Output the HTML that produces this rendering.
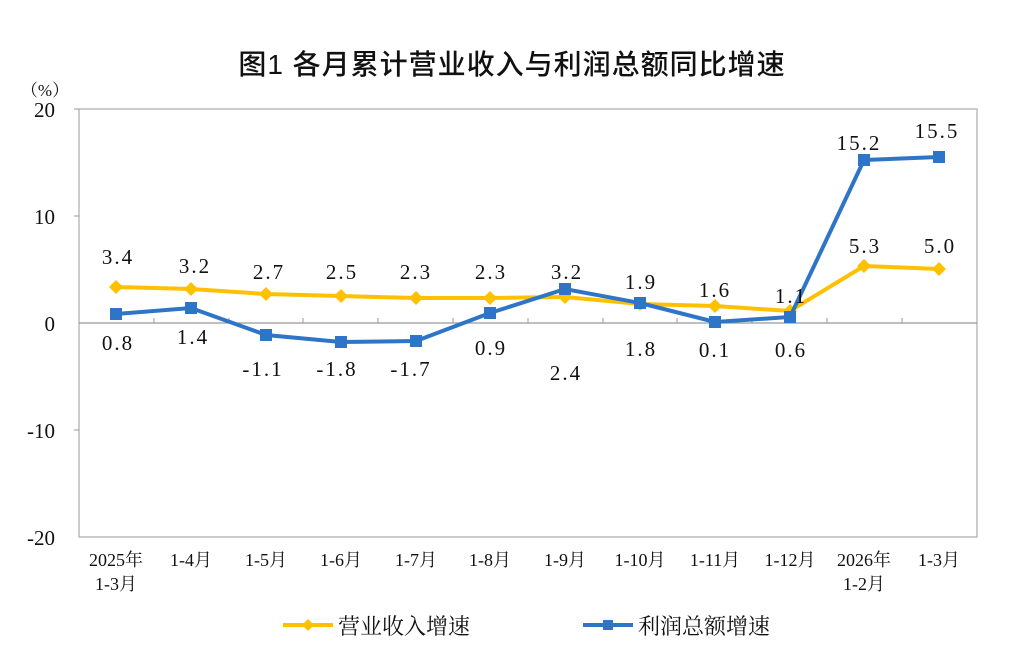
<!DOCTYPE html>
<html><head><meta charset="utf-8"><style>
body{margin:0;background:#fff;}
svg text{font-family:"Liberation Serif","Noto Serif CJK SC",serif;fill:#111;}
.t{font-family:"Liberation Sans","Noto Sans CJK SC",sans-serif;font-weight:500;}
.cj{font-family:"Liberation Serif","Noto Serif CJK SC",serif;}
</style></head><body>
<svg width="1024" height="651" xmlns="http://www.w3.org/2000/svg">
<text x="512" y="74" text-anchor="middle" font-size="28" letter-spacing="1" class="t">图1  各月累计营业收入与利润总额同比增速</text>
<text x="45" y="96" font-size="17" text-anchor="middle">（%）</text>
<rect x="79" y="109" width="898" height="428" fill="none" stroke="#aaa" stroke-width="1.2"/>
<line x1="79" y1="323" x2="977" y2="323" stroke="#999" stroke-width="1.2"/>
<line x1="74" y1="109" x2="79" y2="109" stroke="#999"/>
<line x1="74" y1="216" x2="79" y2="216" stroke="#999"/>
<line x1="74" y1="430" x2="79" y2="430" stroke="#999"/>
<g stroke="#999">
<line x1="154" y1="318" x2="154" y2="323"/><line x1="229" y1="318" x2="229" y2="323"/><line x1="303" y1="318" x2="303" y2="323"/><line x1="378" y1="318" x2="378" y2="323"/><line x1="453" y1="318" x2="453" y2="323"/><line x1="528" y1="318" x2="528" y2="323"/><line x1="603" y1="318" x2="603" y2="323"/><line x1="677" y1="318" x2="677" y2="323"/><line x1="752" y1="318" x2="752" y2="323"/><line x1="827" y1="318" x2="827" y2="323"/><line x1="902" y1="318" x2="902" y2="323"/>
</g>
<g font-size="21" text-anchor="end">
<text x="55" y="117">20</text><text x="55" y="224">10</text><text x="55" y="331">0</text><text x="55" y="438">-10</text><text x="55" y="545">-20</text>
</g>
<g font-size="18" text-anchor="middle" class="cj">
<text x="116" y="566">2025年</text><text x="116" y="590">1-3月</text>
<text x="191" y="566">1-4月</text><text x="266" y="566">1-5月</text><text x="341" y="566">1-6月</text><text x="416" y="566">1-7月</text><text x="490" y="566">1-8月</text><text x="565" y="566">1-9月</text><text x="640" y="566">1-10月</text><text x="715" y="566">1-11月</text><text x="790" y="566">1-12月</text>
<text x="864" y="566">2026年</text><text x="864" y="590">1-2月</text><text x="939" y="566">1-3月</text>
</g>
<polyline fill="none" stroke="#FFC000" stroke-width="4" points="116,287 191,289 266,294 341,296 416,298 490,298 565,297 640,304 715,306 790,311 864,266 939,269"/>
<g fill="#FFC000">
<path d="M116,280l7,7-7,7-7-7z"/><path d="M191,282l7,7-7,7-7-7z"/><path d="M266,287l7,7-7,7-7-7z"/><path d="M341,289l7,7-7,7-7-7z"/><path d="M416,291l7,7-7,7-7-7z"/><path d="M490,291l7,7-7,7-7-7z"/><path d="M565,290l7,7-7,7-7-7z"/><path d="M640,297l7,7-7,7-7-7z"/><path d="M715,299l7,7-7,7-7-7z"/><path d="M790,304l7,7-7,7-7-7z"/><path d="M864,259l7,7-7,7-7-7z"/><path d="M939,262l7,7-7,7-7-7z"/>
</g>
<polyline fill="none" stroke="#2E75C8" stroke-width="4" points="116,314 191,308 266,335 341,342 416,341 490,313 565,289 640,303 715,322 790,317 864,160 939,157"/>
<g fill="#2E75C8">
<rect x="110" y="308" width="12" height="12"/><rect x="185" y="302" width="12" height="12"/><rect x="260" y="329" width="12" height="12"/><rect x="335" y="336" width="12" height="12"/><rect x="410" y="335" width="12" height="12"/><rect x="484" y="307" width="12" height="12"/><rect x="559" y="283" width="12" height="12"/><rect x="634" y="297" width="12" height="12"/><rect x="709" y="316" width="12" height="12"/><rect x="784" y="311" width="12" height="12"/><rect x="858" y="154" width="12" height="12"/><rect x="933" y="151" width="12" height="12"/>
</g>
<g font-size="21" text-anchor="middle" letter-spacing="2">
<text x="118" y="264">3.4</text><text x="195" y="273">3.2</text><text x="269" y="279">2.7</text><text x="342" y="279">2.5</text><text x="416" y="279">2.3</text><text x="491" y="279">2.3</text><text x="566" y="380">2.4</text><text x="641" y="356">1.8</text><text x="715" y="297">1.6</text><text x="791" y="303">1.1</text><text x="865" y="253">5.3</text><text x="940" y="253">5.0</text>
<text x="118" y="350">0.8</text><text x="193" y="344">1.4</text><text x="263" y="376">-1.1</text><text x="337" y="376">-1.8</text><text x="411" y="376">-1.7</text><text x="491" y="355">0.9</text><text x="567" y="279">3.2</text><text x="641" y="289">1.9</text><text x="715" y="357">0.1</text><text x="791" y="357">0.6</text><text x="859" y="150">15.2</text><text x="937" y="138">15.5</text>
</g>
<line x1="283" y1="625" x2="333" y2="625" stroke="#FFC000" stroke-width="4"/>
<path d="M308,619l6,6-6,6-6-6z" fill="#FFC000"/>
<text x="338" y="634" font-size="22" class="cj">营业收入增速</text>
<line x1="583" y1="625" x2="633" y2="625" stroke="#2E75C8" stroke-width="4"/>
<rect x="603" y="620" width="10" height="10" fill="#2E75C8"/>
<text x="638" y="634" font-size="22" class="cj">利润总额增速</text>
</svg>
</body></html>
